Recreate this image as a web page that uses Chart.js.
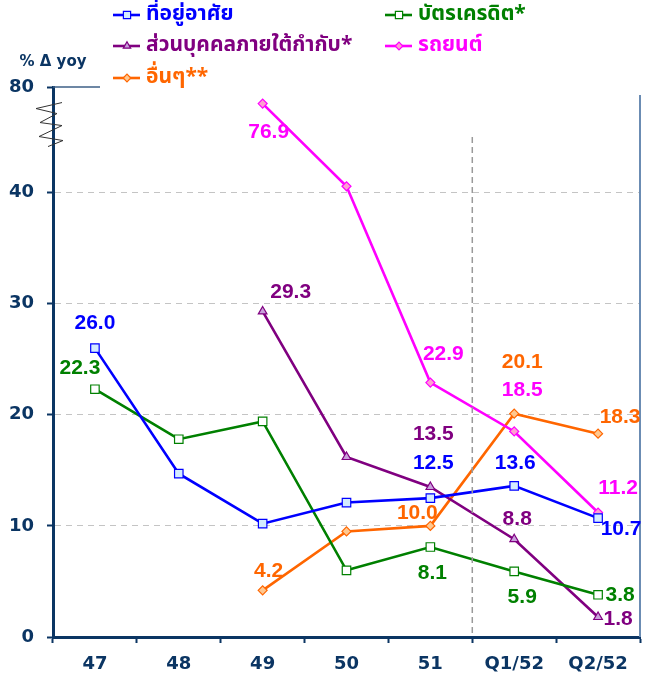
<!DOCTYPE html>
<html>
<head>
<meta charset="utf-8">
<script src="https://cdn.jsdelivr.net/npm/chart.js@4.4.0/dist/chart.umd.min.js"></script>
<style>
  html, body { margin: 0; padding: 0; background: #fff; }
</style>
</head>
<body>
<canvas id="lineChart" width="651" height="675"></canvas>
<script>
// ข้อมูล
var categories = ['47', '48', '49', '50', '51', 'Q1/52', 'Q2/52'];
var housing = [26.0, 14.7, 10.2, 12.1, 12.5, 13.6, 10.7];
var creditCard = [22.3, 17.8, 19.4, 6.0, 8.1, 5.9, 3.8];
var personalLoan = [null, null, 29.3, 16.2, 13.5, 8.8, 1.8];
var autoLoan = [null, null, 76.9, 42.6, 22.9, 18.5, 11.2];
var otherLoan = [null, null, 4.2, 9.5, 10.0, 20.1, 18.3];
var yTicks = [0, 10, 20, 30, 40, 80];
var labelNames = ['ที่อยู่อาศัย', 'บัตรเครดิต*', 'ส่วนบุคคลภายใต้กำกับ*', 'รถยนต์', 'อื่นๆ**'];
var axisTitle = '% \u0394 yoy';

// แกน y มีช่วงหัก: เหนือ 40 ถูกบีบ
var BREAK = 40, SQUEEZE = 0.217, AXIS_TOP = 49.5;
function squeeze(v) {
    if (v === null) return null;
    return v <= BREAK ? v : BREAK + (v - BREAK) * SQUEEZE;
}
function tickPos(v) { return v <= BREAK ? v : AXIS_TOP; }

var navy = '#0b3563';
var axisFont = { family: 'DejaVu Sans', weight: 'bold', size: 18 };

// ตำแหน่งป้ายตัวเลข (dx, dy จากจุด)
var labelPos = [
    { 0: [0, -25], 4: [3, -35], 5: [1, -23], 6: [23, 11] },
    { 0: [-15, -21], 4: [2, 26], 5: [8, 26], 6: [22, 0] },
    { 2: [28, -19], 4: [3, -53], 5: [3, -20], 6: [20, 2] },
    { 2: [6, 29], 4: [13, -28], 5: [8, -41], 6: [20, -24] },
    { 2: [6, -19], 4: [-13, -13], 5: [8, -51], 6: [22, -16] }
];

function makeSet(name, values, color, style, fill, radius) {
    return {
        label: name,
        data: values.map(squeeze),
        raw: values,
        borderColor: color,
        backgroundColor: fill,
        pointBackgroundColor: fill,
        pointBorderColor: color,
        pointStyle: style,
        pointRadius: radius,
        pointBorderWidth: 1.2,
        borderWidth: 2.6,
        tension: 0,
        spanGaps: false
    };
}

var datasets = [
    makeSet(labelNames[0], housing, '#0000ff', 'rect', '#d4ecff', 6),
    makeSet(labelNames[1], creditCard, '#008000', 'rect', '#ffffff', 6),
    makeSet(labelNames[2], personalLoan, '#800080', 'triangle', '#c9a0dc', 5),
    makeSet(labelNames[3], autoLoan, '#ff00ff', 'rectRot', '#ff9fd0', 4.5),
    makeSet(labelNames[4], otherLoan, '#ff6600', 'rectRot', '#ffc890', 4.5)
];

var decorPlugin = {
    id: 'decor',
    afterDatasetsDraw: function (chart) {
        var ctx = chart.ctx;
        var area = chart.chartArea;
        var xs = chart.scales.x, ys = chart.scales.y;

        ctx.save();
        // เส้นแบ่งช่วงปี / ไตรมาส
        var sepX = (xs.getPixelForValue(4) + xs.getPixelForValue(5)) / 2;
        ctx.strokeStyle = '#9a9a9a';
        ctx.lineWidth = 1.5;
        ctx.setLineDash([6, 4]);
        ctx.beginPath();
        ctx.moveTo(sepX, ys.getPixelForValue(45));
        ctx.lineTo(sepX, area.bottom);
        ctx.stroke();
        ctx.setLineDash([]);

        // กรอบด้านขวาและด้านบน
        ctx.strokeStyle = '#6b8cb3';
        ctx.lineWidth = 2;
        ctx.beginPath();
        ctx.moveTo(area.right, area.top + 8);
        ctx.lineTo(area.right, area.bottom);
        ctx.stroke();
        ctx.strokeStyle = '#3c5f86';
        ctx.lineWidth = 1.5;
        ctx.beginPath();
        ctx.moveTo(area.left, area.top);
        ctx.lineTo(area.left + 47, area.top);
        ctx.stroke();

        // สัญลักษณ์หักแกน
        var bx = area.left, by = ys.getPixelForValue(BREAK);
        var zz = [[9, -90], [-17, -84], [4, -79], [-13, -70], [9, -67], [-14, -56], [10, -52], [-5, -46]];
        ctx.strokeStyle = '#333333';
        ctx.lineWidth = 1;
        ctx.beginPath();
        zz.forEach(function (p, i) {
            if (i === 0) ctx.moveTo(bx + p[0], by + p[1]);
            else ctx.lineTo(bx + p[0], by + p[1]);
        });
        ctx.stroke();

        // ป้ายตัวเลข
        ctx.font = 'bold 21px "Liberation Sans", Arial, sans-serif';
        ctx.textAlign = 'center';
        ctx.textBaseline = 'middle';
        chart.data.datasets.forEach(function (ds, i) {
            var meta = chart.getDatasetMeta(i);
            Object.keys(labelPos[i]).forEach(function (k) {
                var pt = meta.data[k];
                var off = labelPos[i][k];
                ctx.fillStyle = ds.borderColor;
                ctx.fillText(ds.raw[k].toFixed(1), pt.x + off[0], pt.y + off[1]);
            });
        });

        // ชื่อแกน
        ctx.fillStyle = navy;
        ctx.font = 'bold 15px "DejaVu Sans", sans-serif';
        ctx.fillText(axisTitle, 53, 62);

        // คำอธิบายสัญลักษณ์
        var cols = [113, 385], rows = [15, 46, 78];
        ctx.textAlign = 'left';
        ctx.font = 'bold 21px "Noto Sans Thai", "Liberation Sans", Tahoma, sans-serif';
        chart.data.datasets.forEach(function (ds, i) {
            var lx = cols[i % 2], ly = rows[Math.floor(i / 2)];
            ctx.strokeStyle = ds.borderColor;
            ctx.lineWidth = 2.6;
            ctx.beginPath();
            ctx.moveTo(lx, ly);
            ctx.lineTo(lx + 27, ly);
            ctx.stroke();
            ctx.fillStyle = ds.pointBackgroundColor;
            ctx.strokeStyle = ds.borderColor;
            ctx.lineWidth = 1.2;
            Chart.helpers.drawPoint(ctx, { pointStyle: ds.pointStyle, radius: ds.pointRadius * 0.85, rotation: 0, borderWidth: 1.2 }, lx + 14, ly);
            ctx.fillStyle = ds.borderColor;
            ctx.fillText(ds.label, lx + 33, ly + 1);
        });
        ctx.restore();
    }
};

var ctx = document.getElementById('lineChart').getContext('2d');
var lineChart = new Chart(ctx, {
    type: 'line',
    data: { labels: categories, datasets: datasets },
    plugins: [decorPlugin],
    options: {
        responsive: false,
        animation: false,
        layout: { padding: { top: 87, right: 11, left: 0, bottom: 0 } },
        plugins: { legend: { display: false }, tooltip: { enabled: false } },
        scales: {
            x: {
                type: 'category',
                offset: true,
                afterFit: function (scale) { scale.height = 38; },
                grid: { offset: true, drawOnChartArea: false, tickColor: navy, tickLength: 6, tickWidth: 2 },
                border: { color: navy, width: 3 },
                ticks: { color: navy, font: axisFont, padding: 11, maxRotation: 0, autoSkip: false }
            },
            y: {
                min: 0,
                max: AXIS_TOP,
                afterFit: function (scale) { scale.width = 53; },
                afterBuildTicks: function (scale) {
                    scale.ticks = yTicks.map(function (v) { return { value: tickPos(v) }; });
                },
                grid: {
                    color: function (c) {
                        var v = c.tick ? c.tick.value : 0;
                        return (v > 0 && v <= BREAK) ? '#c4c4c4' : 'rgba(0,0,0,0)';
                    },
                    lineWidth: 1,
                    tickColor: navy,
                    tickLength: 6,
                    tickWidth: 2
                },
                border: { color: navy, width: 3, dash: [6, 5] },
                ticks: {
                    color: navy,
                    font: axisFont,
                    padding: 13,
                    callback: function (value, index) { return String(yTicks[index]); }
                }
            }
        }
    }
});
</script>
</body>
</html>
